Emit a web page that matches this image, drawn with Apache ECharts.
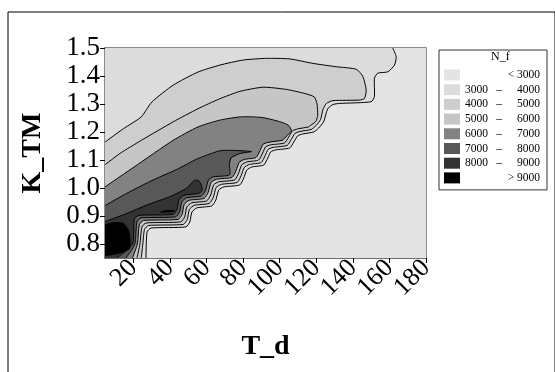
<!DOCTYPE html>
<html><head><meta charset="utf-8">
<script src="https://cdn.jsdelivr.net/npm/echarts@6/dist/echarts.min.js"></script>
<style>html,body{margin:0;padding:0;background:#fff}#c{width:555px;height:372px}</style>
</head><body><div id="c"></div>
<script>
// axis ranges and ticks
const xRange = [4.5, 180];
const yRange = [0.75, 1.5];
const xTicks = [20, 40, 60, 80, 100, 120, 140, 160, 180];
const yTicks = [0.8, 0.9, 1.0, 1.1, 1.2, 1.3, 1.4, 1.5];

// legend levels (N_f)
const levelNames = ['< 3000', '3000 – 4000', '4000 – 5000', '5000 – 6000', '6000 – 7000', '7000 – 8000', '8000 – 9000', '> 9000'];
const levelColors = ['#e4e4e4', '#dcdcdc', '#cecece', '#c6c6c6', '#828282', '#585858', '#333333', '#000000'];

// contour lines [T_d, K_TM]
const c3000 = [[161.8,1.5],[163.7,1.469],[162.8,1.439],[159.1,1.415],[153.6,1.41],[151.8,1.392],[151.8,1.326],[150,1.308],[132.8,1.302],[129.1,1.298],[126.5,1.285],[125.6,1.271],[124,1.236],[121.3,1.214],[118.6,1.2],[112.6,1.193],[109.8,1.186],[107.7,1.164],[105.5,1.143],[97.8,1.136],[95.1,1.129],[93.5,1.107],[91.3,1.082],[84.8,1.075],[82,1.064],[80.4,1.036],[78.2,1.011],[69.5,1.004],[66.7,0.993],[65.1,0.957],[62.9,0.936],[54.7,0.929],[52,0.914],[50.9,0.879],[48.7,0.861],[29.7,0.857],[27.5,0.843],[26.9,0.75]];
const c4000 = [[4.5,1.164],[14.6,1.212],[24.3,1.254],[30.1,1.307],[41.7,1.367],[55.3,1.414],[67.3,1.439],[80,1.457],[92.8,1.463],[105.5,1.461],[118.2,1.445],[131,1.433],[141.9,1.424],[145.5,1.398],[147.3,1.35],[146.4,1.32],[143.7,1.314],[129.1,1.312],[125.5,1.302],[123.6,1.279],[122.4,1.245],[119.9,1.223],[117.2,1.209],[111.2,1.202],[108.4,1.195],[106.3,1.173],[104.1,1.152],[96.4,1.145],[93.7,1.138],[92.1,1.116],[89.9,1.091],[83.4,1.084],[80.6,1.073],[79,1.045],[76.8,1.02],[68.1,1.013],[65.3,1.002],[63.7,0.966],[61.5,0.945],[53.3,0.938],[50.6,0.923],[49.5,0.888],[47.3,0.87],[28.3,0.866],[26.1,0.852],[25.2,0.8],[24.3,0.75]];
const c5000 = [[4.5,1.083],[12.6,1.123],[24.3,1.17],[41.7,1.236],[55.3,1.283],[67,1.318],[78.2,1.345],[90.9,1.36],[103.7,1.352],[114,1.337],[119,1.325],[120.4,1.3],[120.8,1.26],[119.8,1.238],[116.5,1.222],[115.8,1.218],[109.8,1.211],[107,1.204],[104.9,1.182],[102.7,1.161],[95,1.154],[92.3,1.147],[90.7,1.125],[88.5,1.1],[82,1.093],[79.2,1.082],[77.6,1.054],[75.4,1.029],[66.7,1.022],[63.9,1.011],[62.3,0.975],[60.1,0.954],[51.9,0.947],[49.2,0.932],[48.1,0.897],[45.9,0.879],[26.9,0.875],[24.7,0.861],[23.6,0.8],[22,0.75]];
const c6000 = [[4.5,1.004],[20.4,1.075],[41.7,1.17],[55.3,1.218],[67,1.242],[78.6,1.254],[90.2,1.252],[100,1.237],[104.8,1.224],[106.4,1.205],[104.5,1.19],[102.3,1.175],[101.3,1.17],[93.6,1.163],[90.9,1.156],[89.3,1.134],[87.1,1.109],[80.6,1.102],[77.8,1.091],[76.2,1.063],[74,1.038],[65.3,1.031],[62.5,1.02],[60.9,0.984],[58.7,0.963],[50.5,0.956],[47.8,0.941],[46.7,0.906],[44.5,0.888],[25.5,0.884],[23.3,0.87],[22.2,0.8],[19.5,0.75]];
const c7000 = [[4.5,0.937],[16.4,0.981],[30.9,1.029],[43.7,1.066],[54.6,1.103],[67.3,1.133],[76,1.134],[84.6,1.13],[78.2,1.123],[73.5,1.108],[72.5,1.085],[72.6,1.047],[63.9,1.04],[61.1,1.029],[59.5,0.993],[57.3,0.972],[49.1,0.965],[46.4,0.95],[45.3,0.915],[43.1,0.897],[24.1,0.893],[21.9,0.879],[20.8,0.8],[16,0.75]];
const c8000 = [[4.5,0.88],[16.4,0.909],[27.3,0.939],[40,0.969],[49.1,0.999],[53.5,1.028],[55.8,1.025],[57.2,1.01],[57.5,0.99],[55.9,0.981],[47.7,0.974],[45,0.959],[43.9,0.924],[41.7,0.906],[22.7,0.902],[20.5,0.888],[19.5,0.8],[11,0.75]];
const c9000 = [[4.5,0.868],[8.4,0.876],[14.5,0.874],[17.3,0.85],[18.2,0.814],[18,0.784],[15,0.772],[10,0.764],[4.5,0.758]];
const island9000 = [[35,0.914],[38,0.919],[42.5,0.919],[39,0.914],[35,0.914]];

const contours = [null, c3000, c4000, c5000, c6000, c7000, c8000, c9000];
const plotBox = [[xRange[0], yRange[0]], [xRange[1], yRange[0]], [xRange[1], yRange[1]], [xRange[0], yRange[1]]];

const SERIF = '"Liberation Serif","Times New Roman",serif';

function closeRegion(pts) {
  const out = pts.slice();
  const first = pts[0], last = pts[pts.length - 1];
  if (first[0] === xRange[0] && last[0] === xRange[0]) return out;
  if (last[1] === yRange[0]) out.push([xRange[0], yRange[0]]);
  if (first[1] === yRange[1]) out.push([xRange[0], yRange[1]]);
  return out;
}

function fillRender(pts, color) {
  return function (params, api) {
    if (params.dataIndex !== 0) return null;
    return { type: 'polygon', silent: true,
      shape: { points: pts.map(p => api.coord(p)) },
      style: { fill: color, stroke: null } };
  };
}
function lineRender(pts) {
  return function (params, api) {
    if (params.dataIndex !== 0) return null;
    return { type: 'polyline', silent: true,
      shape: { points: pts.map(p => api.coord(p)), smooth: 0.2 },
      style: { fill: null, stroke: '#000', lineWidth: 1 } };
  };
}

const series = [];
levelNames.forEach((name, i) => {
  const region = i === 0 ? plotBox : closeRegion(contours[i]);
  series.push({ type: 'custom', name: name, coordinateSystem: 'cartesian2d',
    itemStyle: { color: levelColors[i] }, data: region, renderItem: fillRender(region, levelColors[i]),
    z: 2, clip: true });
});
series.push({ type: 'custom', name: 'island', coordinateSystem: 'cartesian2d', data: island9000,
  renderItem: fillRender(island9000, levelColors[7]), z: 2, clip: true });
contours.concat([island9000]).forEach((c, i) => {
  if (!c) return;
  series.push({ type: 'custom', name: 'line' + i, coordinateSystem: 'cartesian2d', data: c,
    renderItem: lineRender(c), z: 3, clip: true });
});

const chart = echarts.init(document.getElementById('c'), null, { renderer: 'canvas' });
chart.setOption({
  animation: false,
  backgroundColor: '#fff',
  graphic: [{ type: 'rect', left: 5.5, top: 9.5, shape: { width: 547, height: 400 },
    style: { fill: 'none', stroke: '#000', lineWidth: 1 }, silent: true }],
  title: { text: 'N_f', left: 491, top: 51, padding: 0,
    textStyle: { fontFamily: SERIF, fontSize: 12, fontWeight: 'normal', color: '#000' } },
  legend: {
    data: levelNames, orient: 'vertical', left: 439, top: 50,
    padding: [19, 7, 6, 5], itemGap: 2.7, itemWidth: 16, itemHeight: 11,
    icon: 'rect', borderColor: '#333', borderWidth: 1, selectedMode: false,
    textStyle: { fontFamily: SERIF, fontSize: 11.5, color: '#000', lineHeight: 12,
      rich: {
        r: { width: 75, align: 'right', fontFamily: SERIF, fontSize: 11.5 },
        a: { width: 29, align: 'left', fontFamily: SERIF, fontSize: 11.5 },
        d: { width: 10, align: 'center', fontFamily: SERIF, fontSize: 11.5 },
        b: { width: 36, align: 'right', fontFamily: SERIF, fontSize: 11.5 }
      } },
    formatter: function (name) {
      if (name.indexOf('–') < 0) return '{r|' + name + '}';
      const p = name.split(' – ');
      return '{a|' + p[0] + '}{d|–}{b|' + p[1] + '}';
    }
  },
  grid: { left: 105, right: 129, top: 48, bottom: 114, show: true, borderColor: '#666', borderWidth: 1.5, backgroundColor: 'transparent' },
  xAxis: {
    type: 'value', min: xRange[0], max: xRange[1],
    name: 'T_d', nameLocation: 'middle', nameGap: 75,
    nameTextStyle: { fontFamily: SERIF, fontWeight: 'bold', fontSize: 28, color: '#000' },
    axisLine: { show: true, onZero: false, lineStyle: { color: '#666', width: 1.5 } },
    axisTick: { show: true, length: 5, customValues: xTicks, lineStyle: { color: '#000' } },
    axisLabel: { customValues: xTicks, rotate: 45, margin: 6, fontFamily: SERIF, fontSize: 26, color: '#000' },
    splitLine: { show: false }
  },
  yAxis: {
    type: 'value', min: yRange[0], max: yRange[1],
    name: 'K_TM', nameLocation: 'middle', nameGap: 58, nameRotate: 90,
    nameTextStyle: { fontFamily: SERIF, fontWeight: 'bold', fontSize: 28, color: '#000' },
    axisLine: { show: true, onZero: false, lineStyle: { color: '#000', width: 1 } },
    axisTick: { show: true, length: 5, customValues: yTicks, lineStyle: { color: '#000' } },
    axisLabel: { customValues: yTicks, margin: 5, fontFamily: SERIF, fontSize: 27, color: '#000',
      formatter: v => v.toFixed(1) },
    splitLine: { show: false }
  },
  series: series
});
</script></body></html>
